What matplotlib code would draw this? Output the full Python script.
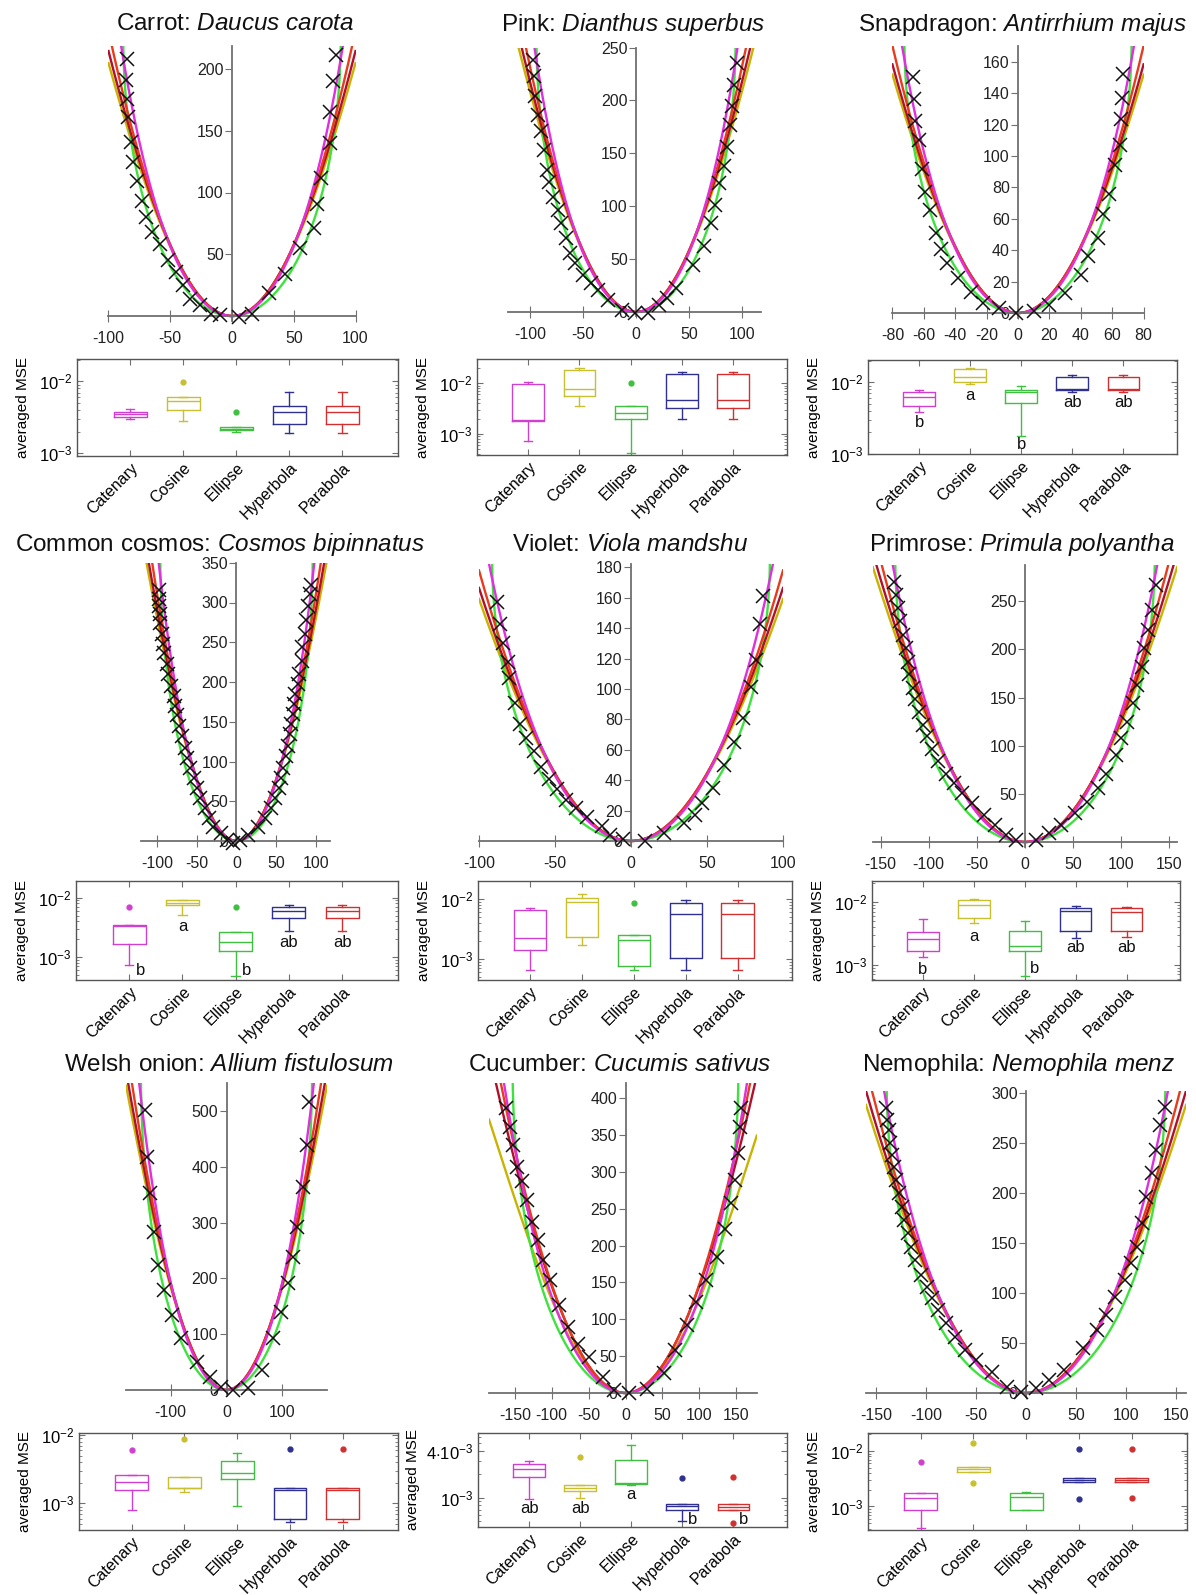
import numpy as np
import matplotlib
matplotlib.use("Agg")
import matplotlib.pyplot as plt
from matplotlib.ticker import LogLocator, NullFormatter

plt.rcParams['font.family'] = ['Liberation Sans', 'DejaVu Sans']
plt.rcParams['mathtext.fontset'] = 'custom'
plt.rcParams['mathtext.rm'] = 'Liberation Sans'
plt.rcParams['mathtext.it'] = 'Liberation Sans:italic'
plt.rcParams['axes.unicode_minus'] = False

MODELS = ['Catenary', 'Cosine', 'Ellipse', 'Hyperbola', 'Parabola']

# ---------------- data ----------------
# outline points (x, y) and fitted model parameters (k, L) per model
carrot_x = [-85, -86, -85, -84, -82, -80, -77, -73, -70, -65, -58, -52, -45, -40, -34, -26, -17, -10,
            6, 16, 30, 43, 55, 66, 69, 72, 79, 79, 82, 84]
carrot_y = [208, 191, 176, 161, 141, 125, 109, 93, 80, 68, 58, 45, 36, 25, 14, 9, 2, 1,
            -1, 2, 19, 34, 55, 71, 91, 112, 140, 165, 190, 211]
carrot_fit = [(0.0208, 49.6), (0.0231, 83.7), (0.0146, 88.1), (0.0236, 150.8), (0.0231, 0)]

pink_x = [-97, -96, -95, -93, -90, -87, -84, -82, -78, -74, -71, -66, -62, -58, -50, -43, -36, -26, -13,
          -1, 11, 22, 29, 38, 54, 64, 71, 75, 78, 83, 86, 89, 91, 93, 95]
pink_y = [238, 223, 204, 186, 171, 153, 134, 123, 109, 96, 84, 70, 56, 46, 35, 27, 21, 11, 2,
          -1, -1, 7, 13, 23, 44, 62, 84, 101, 122, 138, 156, 177, 195, 215, 235]
pink_fit = [(0.0208, 53.0), (0.0231, 89.4), (0.0146, 94.1), (0.0236, 161.0), (0.0231, 0)]

snap_x = [-67, -66, -65.5, -63, -61, -59, -56, -52.5, -49, -45, -38, -30, -22, -12,
          -1, 10.5, 20, 30, 40, 44.5, 51, 54, 58, 62, 65, 65.5, 66, 67]
snap_y = [150, 136, 122, 110, 92, 77, 65.5, 51, 41, 32, 22, 13.6, 6.2, 3,
          0, 1, 5.3, 13, 24, 36, 48, 63, 76, 94, 107, 123.5, 137, 152]
snap_fit = [(0.0239, 40.8), (0.0266, 68.8), (0.0168, 72.4), (0.0271, 124.0), (0.0266, 0)]

cosmos_x = [-98, -98, -98, -96, -96, -94, -93, -91, -88, -86, -82, -79, -77, -75, -72, -69, -65, -62,
            -58, -53, -50, -46, -40, -34, -29, -19, -12, -5, 5, 14, 27, 36, 43, 48, 53, 56, 59,
            62, 65, 67, 69, 71, 72, 74, 77, 79, 82, 83, 86, 88, 90, 92, 94]
cosmos_y = [316, 305, 295, 286, 274, 261, 248, 236, 223, 210, 195, 183, 170, 158, 145, 132, 117, 105,
            92, 79, 67, 54, 41, 29, 18, 10, 1, -3, 1, 8, 18, 29, 41, 54, 67, 79, 92,
            107, 120, 134, 147, 160, 172, 185, 198, 210, 227, 244, 261, 278, 295, 311, 322]
cosmos_fit = [(0.0280, 54.1), (0.0311, 91.2), (0.0196, 95.9), (0.0317, 164.0), (0.0311, 0)]

violet_x = [-88, -86, -84, -81, -80, -76, -73, -69, -64, -59, -54, -49, -43, -36, -29, -19, -14, -5,
            9, 22, 35, 42, 47, 54, 61, 68, 74, 79, 82, 85, 87]
violet_y = [157, 143, 130, 118, 107, 91, 77, 68, 59, 49, 41, 34, 27, 22, 16, 10, 4, 1,
            0, 5, 12, 17, 25, 35, 50, 65, 81, 101, 119, 143, 161]
violet_fit = [(0.0160, 51.5), (0.0178, 86.9), (0.0112, 91.4), (0.0182, 156.6), (0.0178, 0)]

primrose_x = [-136, -134, -132, -130, -127, -124, -122, -120, -116, -114, -110, -106, -102, -97, -90,
              -82, -74, -65, -55, -43, -31, -20, -9, 11, 25, 37, 52, 64, 76, 84, 94, 100, 106,
              112, 116, 121, 124, 128, 132, 136]
primrose_y = [270, 257, 243, 229, 215, 201, 187, 174, 160, 148, 135, 122, 110, 97, 84,
              71, 61, 51, 40, 28, 18, 7, 2, 2, 9, 18, 30, 42, 56, 71, 90, 108, 125,
              144, 163, 182, 201, 220, 241, 267]
primrose_fit = [(0.0117, 76.0), (0.0130, 128.0), (0.0082, 134.8), (0.0133, 231.0), (0.0130, 0)]

onion_x = [-146, -142, -137, -130, -123, -112, -98, -81, -53, -30, -10, 11,
           38, 63, 84, 97, 110, 120, 127, 137, 144, 148]
onion_y = [502, 418, 353, 284, 224, 179, 134, 93, 51, 24, 6, 0,
           3, 36, 93, 140, 191, 239, 293, 364, 439, 517]
onion_fit = [(0.0172, 86.4), (0.01914, 145.8), (0.0121, 153.4), (0.0195, 262.7), (0.01914, 0)]

cucumber_x = [-162, -157, -152, -147, -140, -134, -127, -119, -112, -103, -90, -78, -64, -50, -31,
              -16, 5, 29, 52, 67, 83, 95, 109, 124, 135, 143, 148, 153, 155, 157]
cucumber_y = [387, 361, 336, 307, 287, 262, 232, 207, 180, 153, 119, 90, 67, 49, 22,
              4, 0, 6, 27, 58, 92, 124, 153, 185, 223, 257, 289, 325, 361, 386]
cucumber_fit = [(0.0118, 90.0), (0.0135, 115.0), (0.0093, 153.0), (0.0150, 262.0), (0.0147, 0)]

nemo_x = [-140, -139, -137, -136, -134, -132, -130, -127, -124, -122, -118, -115, -111, -105, -99,
          -94, -88, -80, -71, -61, -50, -34, -19, -5, 10, 23, 38, 57, 71, 80, 89, 99, 105,
          111, 116, 120, 126, 130, 134, 139]
nemo_y = [285, 273, 263, 250, 238, 226, 213, 200, 186, 173, 160, 146, 133, 118, 106,
          95, 83, 70, 56, 43, 33, 21, 6, 1, 5, 13, 23, 45, 63, 78, 96, 113, 130,
          146, 170, 196, 220, 243, 268, 286]
nemo_fit = [(0.0115, 78.5), (0.01273, 132.4), (0.0080, 139.4), (0.0130, 238.7), (0.01273, 0)]

# averaged MSE boxes: [whisker low, q1, median, q3, whisker high] per model
carrot_box = [[3.0e-3, 3.25e-3, 3.55e-3, 3.8e-3, 4.1e-3], [2.8e-3, 4.0e-3, 5.4e-3, 6.0e-3, 6.0e-3],
              [2.0e-3, 2.1e-3, 2.2e-3, 2.3e-3, 2.3e-3], [1.9e-3, 2.55e-3, 3.75e-3, 4.6e-3, 7.1e-3],
              [1.9e-3, 2.55e-3, 3.75e-3, 4.6e-3, 7.1e-3]]
carrot_fliers = [[], [9.7e-3], [3.8e-3], [], []]

pink_box = [[7.3e-4, 1.8e-3, 1.9e-3, 9.6e-3, 0.0106], [3.6e-3, 5.5e-3, 7.7e-3, 0.0178, 0.0198],
            [4.2e-4, 1.95e-3, 2.55e-3, 3.6e-3, 3.6e-3], [2.0e-3, 3.3e-3, 4.7e-3, 0.0153, 0.0165],
            [2.0e-3, 3.3e-3, 4.7e-3, 0.0153, 0.0165]]
pink_fliers = [[], [], [0.01], [], []]

snap_box = [[3.8e-3, 4.7e-3, 6.3e-3, 7.2e-3, 7.8e-3], [9.4e-3, 0.010, 0.0117, 0.0153, 0.0156],
            [1.8e-3, 5.1e-3, 7.2e-3, 7.8e-3, 8.9e-3], [7.2e-3, 7.8e-3, 8.1e-3, 0.0120, 0.0125],
            [7.2e-3, 7.8e-3, 8.1e-3, 0.0120, 0.0125]]
snap_fliers = [[], [], [], [], []]
snap_letters = [('b', 2.75e-3, 0), ('a', 6.45e-3, 0), ('b', 1.35e-3, 0), ('ab', 5.2e-3, 0), ('ab', 5.2e-3, 0)]

cosmos_box = [[7.2e-4, 1.64e-3, 3.3e-3, 3.4e-3, 3.4e-3], [5.1e-3, 7.4e-3, 8.2e-3, 9.2e-3, 9.2e-3],
              [4.8e-4, 1.27e-3, 1.75e-3, 2.6e-3, 2.6e-3], [2.7e-3, 4.6e-3, 5.9e-3, 6.9e-3, 7.4e-3],
              [2.7e-3, 4.6e-3, 5.9e-3, 6.9e-3, 7.4e-3]]
cosmos_fliers = [[7.1e-3], [], [6.9e-3], [], []]
cosmos_letters = [('b', 5.9e-4, 0.22), ('a', 3.3e-3, 0), ('b', 5.9e-4, 0.2), ('ab', 1.75e-3, 0), ('ab', 1.75e-3, 0)]

violet_box = [[6.6e-4, 1.4e-3, 2.25e-3, 6.5e-3, 7.2e-3], [1.7e-3, 2.35e-3, 8.8e-3, 0.0103, 0.0121],
              [6.6e-4, 7.6e-4, 2.1e-3, 2.5e-3, 2.5e-3], [6.6e-4, 1.03e-3, 5.6e-3, 8.5e-3, 9.6e-3],
              [6.6e-4, 1.03e-3, 5.6e-3, 8.5e-3, 9.6e-3]]
violet_fliers = [[], [], [8.5e-3], [], []]

primrose_box = [[1.33e-3, 1.64e-3, 2.55e-3, 3.35e-3, 5.4e-3], [4.7e-3, 5.6e-3, 8.8e-3, 0.0106, 0.0113],
                [6.5e-4, 1.64e-3, 1.98e-3, 3.5e-3, 5.0e-3], [2.65e-3, 3.45e-3, 7.05e-3, 8.0e-3, 8.5e-3],
                [2.75e-3, 3.5e-3, 6.9e-3, 7.9e-3, 8.3e-3]]
primrose_fliers = [[], [], [], [], []]
primrose_letters = [('b', 8.3e-4, 0), ('a', 2.8e-3, 0), ('b', 8.8e-4, 0.2), ('ab', 1.86e-3, 0), ('ab', 1.86e-3, 0)]

onion_box = [[8.0e-4, 1.57e-3, 2.07e-3, 2.6e-3, 2.6e-3], [1.48e-3, 1.66e-3, 1.71e-3, 2.46e-3, 2.46e-3],
             [9.1e-4, 2.3e-3, 2.75e-3, 4.2e-3, 5.5e-3], [5.4e-4, 6.0e-4, 1.57e-3, 1.71e-3, 1.71e-3],
             [5.4e-4, 6.0e-4, 1.57e-3, 1.71e-3, 1.71e-3]]
onion_fliers = [[6.0e-3], [8.7e-3], [], [6.2e-3], [6.2e-3]]

cucumber_box = [[9.7e-4, 1.87e-3, 2.37e-3, 2.7e-3, 2.97e-3], [1.0e-3, 1.22e-3, 1.35e-3, 1.44e-3, 1.44e-3],
                [1.44e-3, 1.52e-3, 1.55e-3, 3.03e-3, 4.8e-3], [5.0e-4, 6.9e-4, 7.8e-4, 8.4e-4, 8.4e-4],
                [6.9e-4, 6.9e-4, 7.7e-4, 8.3e-4, 8.3e-4]]
cucumber_fliers = [[], [3.3e-3], [], [1.8e-3], [1.87e-3, 4.7e-4]]
cucumber_letters = [('ab', 7.4e-4, 0), ('ab', 7.4e-4, 0), ('a', 1.1e-3, 0), ('b', 5.3e-4, 0.2), ('b', 5.3e-4, 0.2)]

nemo_box = [[4.15e-4, 8.5e-4, 1.4e-3, 1.72e-3, 1.72e-3], [4.26e-3, 4.26e-3, 4.74e-3, 5.08e-3, 5.08e-3],
            [8.6e-4, 8.7e-4, 1.5e-3, 1.77e-3, 1.8e-3], [2.76e-3, 2.76e-3, 2.96e-3, 3.3e-3, 3.3e-3],
            [2.76e-3, 2.76e-3, 2.96e-3, 3.3e-3, 3.3e-3]]
nemo_fliers = [[6.4e-3], [0.0137, 2.7e-3], [], [0.0107, 1.37e-3], [0.0107, 1.4e-3]]

# ---------------- layout (pixels of a 1196 x 1595 canvas) ----------------
W, H = 1196, 1595
panels = [
    dict(common='Carrot', latin='Daucus\\ carota', tx=235, ty=24,
         x=carrot_x, y=carrot_y, fit=carrot_fit, org=(232, 316, 1.235), xlim=(-100, 100), ylim=(-4, 219),
         xt=[-100, -50, 0, 50, 100], yt=[50, 100, 150, 200],
         box=carrot_box, fl=carrot_fliers, let=None, brect=(77, 359, 398, 456), bylim=(9.2e-4, 0.0205), lab=-47),
    dict(common='Pink', latin='Dianthus\\ superbus', tx=633, ty=24,
         x=pink_x, y=pink_y, fit=pink_fit, org=(636, 312, 1.058), xlim=(-121, 118), ylim=(-4, 250),
         xt=[-100, -50, 0, 50, 100], yt=[0, 50, 100, 150, 200, 250],
         box=pink_box, fl=pink_fliers, let=None, brect=(477, 359, 787, 455), bylim=(3.9e-4, 0.0298), lab=-47),
    dict(common='Snapdragon', latin='Antirrhium\\ majus', tx=1023, ty=24,
         x=snap_x, y=snap_y, fit=snap_fit, org=(1018, 313, 1.57), xlim=(-80, 80), ylim=(-3, 170),
         xt=list(range(-80, 81, 20)), yt=list(range(0, 161, 20)),
         box=snap_box, fl=snap_fliers, let=snap_letters, brect=(868, 360, 1177, 454), bylim=(1e-3, 0.0204), lab=-47),
    dict(common='Common cosmos', latin='Cosmos\\ bipinnatus', tx=220, ty=545,
         x=cosmos_x, y=cosmos_y, fit=cosmos_fit, org=(236.5, 841, 0.795), xlim=(-120, 117), ylim=(-6, 350),
         xt=[-100, -50, 0, 50, 100], yt=list(range(0, 351, 50)),
         box=cosmos_box, fl=cosmos_fliers, let=cosmos_letters, brect=(76, 881, 398, 980), bylim=(4.05e-4, 0.0192),
         lab=-47),
    dict(common='Violet', latin='Viola\\ mandshu', tx=630, ty=545,
         x=violet_x, y=violet_y, fit=violet_fit, org=(631, 841, 1.52), xlim=(-100, 100), ylim=(-3, 182),
         xt=[-100, -50, 0, 50, 100], yt=list(range(0, 181, 20)),
         box=violet_box, fl=violet_fliers, let=None, brect=(478, 881, 792, 980), bylim=(4.5e-4, 0.020), lab=-47),
    dict(common='Primrose', latin='Primula\\ polyantha', tx=1022, ty=545,
         x=primrose_x, y=primrose_y, fit=primrose_fit, org=(1025, 842, 0.963), xlim=(-158, 158), ylim=(-5, 288),
         xt=[-150, -100, -50, 0, 50, 100, 150], yt=[50, 100, 150, 200, 250],
         box=primrose_box, fl=primrose_fliers, let=primrose_letters, brect=(872, 881, 1180, 980),
         bylim=(5.7e-4, 0.0216), lab=-47),
    dict(common='Welsh onion', latin='Allium\\ fistulosum', tx=229, ty=1065,
         x=onion_x, y=onion_y, fit=onion_fit, org=(226.5, 1390, 0.558), xlim=(-180, 180), ylim=(-8, 550),
         xt=[-100, 0, 100], yt=[0, 100, 200, 300, 400, 500],
         box=onion_box, fl=onion_fliers, let=None, brect=(79, 1433, 398, 1530), bylim=(4.07e-4, 0.0108), lab=-47),
    dict(common='Cucumber', latin='Cucumis\\ sativus', tx=620, ty=1065,
         x=cucumber_x, y=cucumber_y, fit=cucumber_fit, org=(625.5, 1393, 0.7375), xlim=(-185, 178), ylim=(-6, 420),
         xt=[-150, -100, -50, 0, 50, 100, 150], yt=list(range(0, 401, 50)),
         box=cucumber_box, fl=cucumber_fliers, let=cucumber_letters, brect=(478, 1433, 787, 1527),
         bylim=(4.23e-4, 6.76e-3), lab=-58),
    dict(common='Nemophila', latin='Nemophila\\ menz', tx=1019, ty=1065,
         x=nemo_x, y=nemo_y, fit=nemo_fit, org=(1026, 1393, 1.0), xlim=(-160, 160), ylim=(-4, 302),
         xt=[-150, -100, -50, 0, 50, 100, 150], yt=list(range(0, 301, 50)),
         box=nemo_box, fl=nemo_fliers, let=None, brect=(868, 1433, 1187, 1530), bylim=(3.77e-4, 0.0211), lab=-47),
]

CURVE_COL = {'Catenary': '#e02ee0', 'Cosine': '#c8b400', 'Ellipse': '#3ee23e',
             'Hyperbola': '#b0102c', 'Parabola': '#e83a1c'}
BOX_COL = {'Catenary': '#d040d0', 'Cosine': '#c8c030', 'Ellipse': '#40c040',
           'Hyperbola': '#303090', 'Parabola': '#d03030'}
DRAW_ORDER = ['Cosine', 'Ellipse', 'Hyperbola', 'Parabola', 'Catenary']
GREY = '#707070'


def model(name, x, k, L):
    if name == 'Parabola':
        return k * x ** 2
    u = x / L
    a = 2 * k * L * L
    if name == 'Catenary':
        return a * (np.cosh(u) - 1)
    if name == 'Cosine':
        return a * (1 - np.cos(u))
    if name == 'Hyperbola':
        return a * (np.sqrt(1 + u ** 2) - 1)
    y = np.full_like(x, np.nan)
    ok = np.abs(u) <= 1
    y[ok] = a * (1 - np.sqrt(1 - u[ok] ** 2))
    return y


def rect(l, t, r, b):
    return [l / W, 1 - b / H, (r - l) / W, (b - t) / H]


fig = plt.figure(figsize=(W / 100, H / 100), dpi=100)

for p in panels:
    ox, oy, s = p['org']
    (x0, x1), (y0, y1) = p['xlim'], p['ylim']
    ax = fig.add_axes(rect(ox + x0 * s, oy - y1 * s, ox + x1 * s, oy - y0 * s))
    ax.patch.set_alpha(0)
    fits = dict(zip(MODELS, p['fit']))
    for m in DRAW_ORDER:
        k, L = fits[m]
        xx = np.linspace(x0, x1, 3000)
        if m == 'Ellipse':
            xx = np.sort(np.concatenate([xx, [-L, L]]))
        ax.plot(xx, model(m, xx, k, L), color=CURVE_COL[m], lw=1.7)
    ax.plot(p['x'], p['y'], 'x', color='#111111', ms=10, mew=1.1, clip_on=False, zorder=5)
    ax.set_xlim(x0, x1)
    ax.set_ylim(y0, y1)
    ax.spines[['top', 'right']].set_visible(False)
    ax.spines['left'].set_position(('data', 0))
    ax.spines['bottom'].set_position(('data', 0))
    for sp in ('left', 'bottom'):
        ax.spines[sp].set_color(GREY)
        ax.spines[sp].set_linewidth(1.3)
    ax.set_xticks(p['xt'])
    ax.set_yticks(p['yt'])
    ax.tick_params(axis='x', direction='inout', length=8, pad=7, color=GREY,
                   labelcolor='#222222', labelsize=11.5)
    ax.tick_params(axis='y', direction='out', length=5, pad=1, color=GREY,
                   labelcolor='#222222', labelsize=11.5)
    fig.text(p['tx'] / W, 1 - p['ty'] / H, p['common'] + ': $\\mathit{' + p['latin'] + '}$',
             ha='center', va='center', fontsize=17.5, color='#111111')

    # box plot of averaged MSE
    l, t, r, b = p['brect']
    bx = fig.add_axes(rect(l, t, r, b))
    for i, m in enumerate(MODELS):
        lo, q1, med, q3, hi = p['box'][i]
        c = BOX_COL[m]
        bx.bxp([dict(whislo=lo, q1=q1, med=med, q3=q3, whishi=hi, fliers=p['fl'][i])],
               positions=[i + 1], widths=0.62, capwidths=0.16, manage_ticks=False,
               boxprops=dict(color=c, lw=1), whiskerprops=dict(color=c, lw=1),
               capprops=dict(color=c, lw=1), medianprops=dict(color=c, lw=1),
               flierprops=dict(marker='o', ms=3.5, mfc=c, mec=c))
        if p['let']:
            txt, yv, dx = p['let'][i]
            bx.text(i + 1 + dx, yv, txt, ha='center', va='center', fontsize=12, color='#111111')
    bx.set_yscale('log')
    bx.set_xlim(0, 6.05)
    bx.set_ylim(*p['bylim'])
    if p['common'] == 'Cucumber':
        bx.set_yticks([1e-3, 4e-3], ['$10^{-3}$', '$4{\\cdot}10^{-3}$'])
    else:
        bx.set_yticks([1e-3, 1e-2], ['$10^{-3}$', '$10^{-2}$'])
    bx.yaxis.set_minor_locator(LogLocator(base=10, subs=np.arange(2, 10)))
    bx.yaxis.set_minor_formatter(NullFormatter())
    bx.set_xticks(range(1, 6), MODELS, rotation=45, ha='right', rotation_mode='anchor')
    bx.tick_params(axis='both', which='both', direction='in', top=True, right=True, color=GREY)
    bx.tick_params(axis='x', labelsize=11.5, pad=3, length=4)
    bx.tick_params(axis='y', which='major', labelsize=12, length=4)
    bx.tick_params(axis='y', which='minor', length=2)
    for sp in bx.spines.values():
        sp.set_color('#555555')
        sp.set_linewidth(1.0)
    bx.set_ylabel('averaged MSE', fontsize=11)
    bx.yaxis.set_label_coords(p['lab'] / (r - l), 0.5)

fig.savefig('out.png', dpi=100)
